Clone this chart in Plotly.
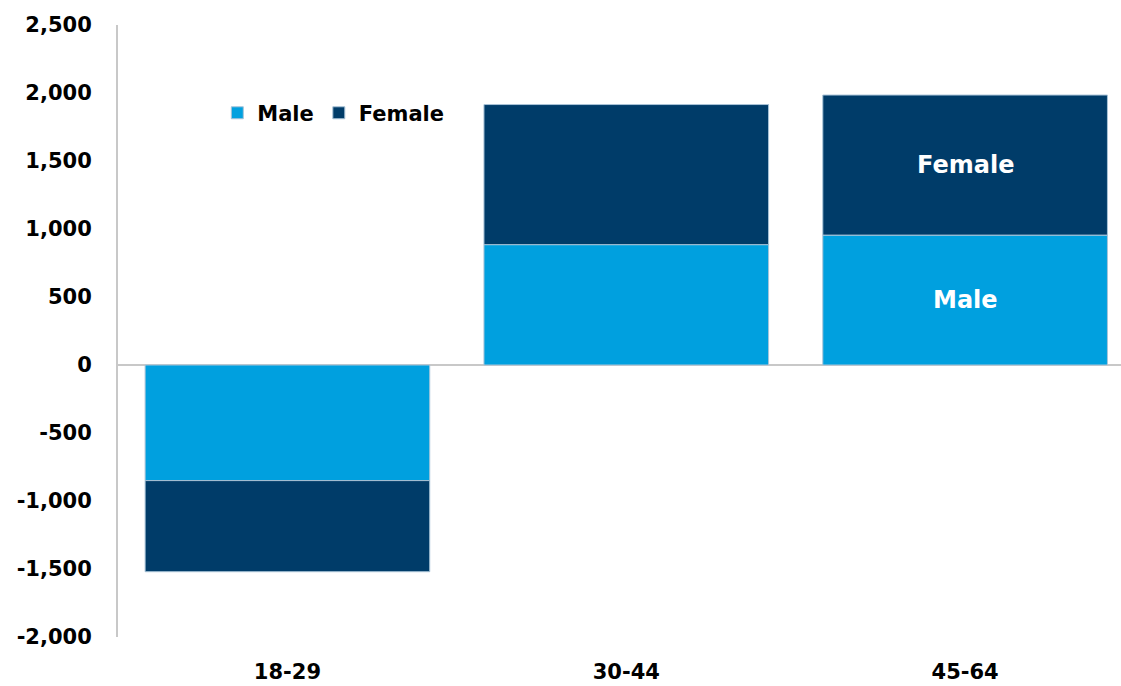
import plotly.graph_objects as go

# data
age_groups = ["18-29", "30-44", "45-64"]
male = [-850, 885, 955]
female = [-670, 1030, 1030]
y_ticks = [-2000, -1500, -1000, -500, 0, 500, 1000, 1500, 2000, 2500]
y_tick_labels = ["-2,000", "-1,500", "-1,000", "-500", "0", "500", "1,000", "1,500", "2,000", "2,500"]

male_color = "#00A0DF"
female_color = "#003C69"
font_family = "DejaVu Sans, Verdana, sans-serif"

fig = go.Figure()
fig.add_trace(go.Bar(x=age_groups, y=male, name="Male", marker_color=male_color,
                     marker_line=dict(color="#a9c4d8", width=1)))
fig.add_trace(go.Bar(x=age_groups, y=female, name="Female", marker_color=female_color,
                     marker_line=dict(color="#a9c4d8", width=1)))

# in-bar labels on the last group
last = age_groups[-1]
fig.add_annotation(x=last, y=male[-1] / 2, text="<b>Male</b>", showarrow=False,
                   font=dict(color="white", size=24, family=font_family))
fig.add_annotation(x=last, y=male[-1] + female[-1] / 2, text="<b>Female</b>", showarrow=False,
                   font=dict(color="white", size=24, family=font_family))

fig.update_layout(
    barmode="relative",
    bargap=0.16,
    width=1121, height=686,
    margin=dict(l=118, r=0, t=25, b=49),
    plot_bgcolor="white", paper_bgcolor="white",
    font=dict(family=font_family, color="black", size=21),
    showlegend=True,
    legend=dict(orientation="h", x=0.099, y=0.856, xanchor="left", yanchor="middle",
                font=dict(size=21, family=font_family, weight="bold"), itemwidth=30,
                traceorder="normal", tracegroupgap=0, bgcolor="rgba(0,0,0,0)"),
)
fig.update_yaxes(range=[-2000, 2500], tickvals=y_ticks, ticktext=y_tick_labels,
                 automargin=False,
                 showgrid=False, zeroline=True, zerolinecolor="#c8c8c8", zerolinewidth=2,
                 showline=True, linecolor="#c8c8c8", linewidth=2,
                 ticks="outside", ticklen=20, tickcolor="rgba(0,0,0,0)",
                 tickfont=dict(size=21, family=font_family, weight="bold"))
fig.update_xaxes(range=[-0.5, 2.46], showgrid=False, showline=False, automargin=False,
                 ticks="outside", ticklen=16, tickcolor="rgba(0,0,0,0)",
                 tickfont=dict(size=21, family=font_family, weight="bold"))

# page has a default body margin; drop it so the figure fills the window
fig.write_html("out.html", config={"displayModeBar": False},
               post_script="document.body.style.margin='0';document.body.style.overflow='hidden';")
